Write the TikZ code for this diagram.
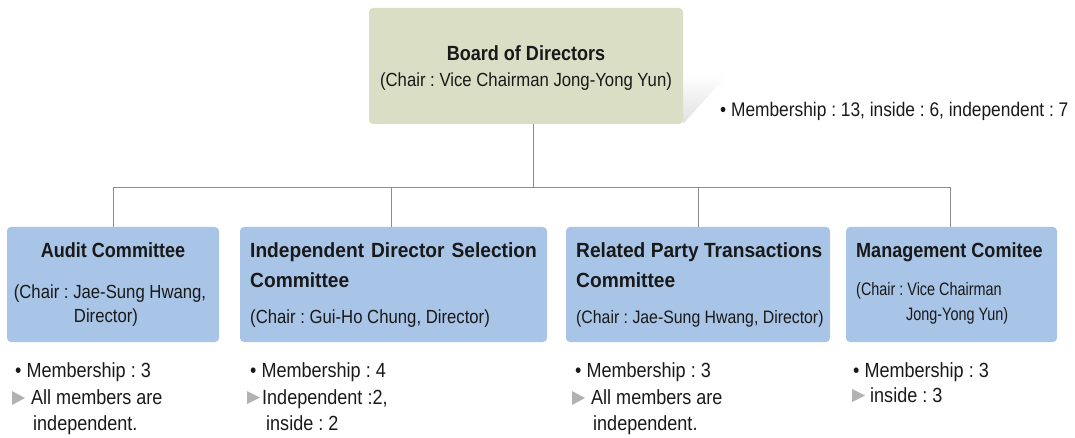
\documentclass[tikz,border=0pt]{standalone}
\usepackage{fontspec}
\setmainfont{Liberation Sans}[FakeStretch=0.88]
\newfontfamily\narrowfont{Liberation Sans}[FakeStretch=0.80]
\newfontfamily\widefont{Liberation Sans}[FakeStretch=0.935]
\usetikzlibrary{shadings}
\frenchspacing
\definecolor{boardfill}{RGB}{217,222,196}
\definecolor{commfill}{RGB}{168,196,230}
\definecolor{linegray}{RGB}{140,140,140}
\definecolor{txt}{RGB}{25,25,25}
\definecolor{tri}{RGB}{178,178,178}
\tikzset{
  boardbox/.style={fill=boardfill, rounded corners=4pt, draw=none},
  commbox/.style={fill=commfill, rounded corners=4pt, draw=none},
  conn/.style={draw=linegray, line width=0.9pt},
  ttl/.style={font=\fontsize{20.5}{24}\selectfont\bfseries, text=txt, inner sep=0pt},
  ttlw/.style={font=\widefont\fontsize{20.5}{24}\selectfont\bfseries, text=txt, inner sep=0pt},
  sub/.style={font=\fontsize{19}{21}\selectfont, text=txt, inner sep=0pt},
  subs/.style={font=\fontsize{18}{21}\selectfont, text=txt, inner sep=0pt},
  subn/.style={font=\narrowfont\fontsize{18}{21}\selectfont, text=txt, inner sep=0pt},
  lst/.style={font=\fontsize{20.5}{22}\selectfont, text=txt, inner sep=0pt, anchor=base west},
  lstb/.style={font=\fontsize{19.7}{22}\selectfont, text=txt, inner sep=0pt, anchor=base west},
  trimark/.style={fill=tri, draw=none}
}
\begin{document}
\begin{tikzpicture}[x=1pt,y=-1pt]
\useasboundingbox (0,0) rectangle (1075,438);
% shadow wedge
\shade[top color=white, bottom color=black!12, draw=none] (683,76) -- (728,74) -- (683,124) -- cycle;
% boxes
\path[boardbox] (369,8) rectangle (683,124);
\node[inner sep=0pt, minimum width=314pt, minimum height=116pt] (board) at (526,66) {};
\path[commbox] (7,227) rectangle (219,342);
\node[inner sep=0pt, minimum width=212pt, minimum height=115pt] (audit) at (113,284.5) {};
\path[commbox] (240,227) rectangle (547,342);
\node[inner sep=0pt] (idsc) at (391,284.5) {};
\coordinate (idsctop) at (391,227);
\path[commbox] (566,227) rectangle (830,342);
\node[inner sep=0pt, minimum width=264pt, minimum height=115pt] (rpt) at (698.5,284.5) {};
\path[commbox] (846,227) rectangle (1057,342);
\node[inner sep=0pt, minimum width=211pt, minimum height=115pt] (mgmt) at (950,284.5) {};
% connectors
\coordinate (bus) at (533,187);
\coordinate (boardbot) at (533,124);
\draw[conn] (boardbot) -- (bus);
\draw[conn] (audit.north) |- (bus);
\draw[conn] (mgmt.north) |- (bus);
\draw[conn] (idsctop) -- (391,187);
\draw[conn] (rpt.north) -- (698.5,187);
% board text
\node[ttl, anchor=base] (bt) at (526,61) {Board of Directors};
\node[sub, anchor=base] (bs) at (526,87) {(Chair : Vice Chairman Jong-Yong Yun)};
\node[lstb] (bm) at (720,117) {• Membership : 13, inside : 6, independent : 7};
% audit
\node[ttl, anchor=base] (at) at (113,257) {Audit Committee};
\node[sub, anchor=base] (as1) at (110,298) {(Chair : Jae-Sung Hwang,};
\node[sub, anchor=base] (as2) at (106,322) {Director)};
% idsc
\node[ttlw, anchor=base west] (it1) at (250,258) {Independent\hspace{7pt}Director\hspace{7pt}Selection};
\node[ttlw, anchor=base west] (it2) at (250,287) {Committee};
\node[sub, anchor=base west] (is) at (250,323) {(Chair : Gui-Ho Chung, Director)};
% rpt
\node[ttlw, anchor=base west] (rt1) at (576,258) {Related Party Transactions};
\node[ttlw, anchor=base west] (rt2) at (576,287) {Committee};
\node[subs, anchor=base west] (rs) at (576,323) {(Chair : Jae-Sung Hwang, Director)};
% mgmt
\node[ttl, anchor=base west] (mt) at (856,257) {Management Comitee};
\node[subn, anchor=base west] (ms1) at (856,295) {(Chair : Vice Chairman};
\node[subn, anchor=base west] (ms2) at (906,320) {Jong-Yong Yun)};
% lists
\node[lst] (al1) at (15,377) {• Membership : 3};
\fill[trimark] (12,391) -- (25,398) -- (12,405) -- cycle;
\node[lst] (al2) at (31,404) {All members are};
\node[lst] (al3) at (33,430) {independent.};
\node[lst] (il1) at (250,377) {• Membership : 4};
\fill[trimark] (247,391) -- (260,397.5) -- (247,404) -- cycle;
\node[lst] (il2) at (262,404) {Independent :2,};
\node[lst] (il3) at (266,430) {inside : 2};
\node[lst] (rl1) at (575,377) {• Membership : 3};
\fill[trimark] (572,391) -- (585,398) -- (572,405) -- cycle;
\node[lst] (rl2) at (591,404) {All members are};
\node[lst] (rl3) at (593,430) {independent.};
\node[lst] (ml1) at (853,377) {• Membership : 3};
\fill[trimark] (852,389) -- (865,395.5) -- (852,402) -- cycle;
\node[lst] (ml2) at (870,402) {inside : 3};
\end{tikzpicture}
\end{document}
